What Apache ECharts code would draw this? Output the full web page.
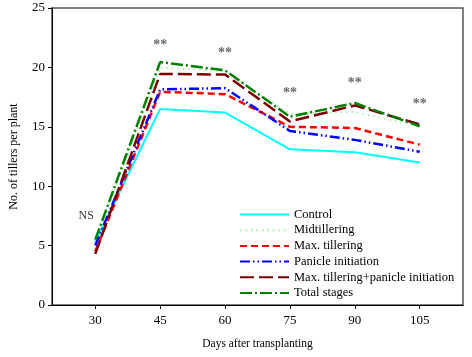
<!DOCTYPE html>
<html><head><meta charset="utf-8">
<script src="https://cdn.jsdelivr.net/npm/echarts@6/dist/echarts.min.js"></script>
<style>html,body{margin:0;padding:0;background:#fff}#c{width:472px;height:357px}</style>
</head><body><div id="c"></div>
<script>
const days = [30, 45, 60, 75, 90, 105];
const yTicks = [0, 5, 10, 15, 20, 25];
const control = [5.3, 16.5, 16.2, 13.1, 12.85, 12.0];
const midtillering = [5.3, 20.0, 19.65, 16.1, 16.25, 15.0];
const maxTillering = [4.5, 17.95, 17.75, 15.0, 14.9, 13.5];
const panicleInitiation = [5.0, 18.15, 18.25, 14.65, 13.9, 12.9];
const maxTillPanicle = [4.3, 19.45, 19.4, 15.45, 16.8, 15.2];
const totalStages = [5.5, 20.45, 19.75, 15.85, 17.0, 15.05];
const sigLabels = ['NS', '**', '**', '**', '**', '**'];
const sigY = [7.5, 21.9, 21.25, 17.9, 18.7, 17.0];

const font = '"Liberation Serif", "DejaVu Serif", serif';
const pairs = arr => days.map((d, i) => [d, arr[i]]);
function line(name, data, color, width, type) {
  return { name, type: 'line', data: pairs(data), symbol: 'none', showSymbol: false,
    lineStyle: { color, width, type }, itemStyle: { color }, z: 3, animation: false };
}
const chart = echarts.init(document.getElementById('c'), null, { renderer: 'canvas' });
chart.setOption({
  animation: false,
  grid: { left: 52, top: 8, right: 9, bottom: 52, show: true, borderColor: '#555', borderWidth: 1.5, containLabel: false },
  xAxis: {
    type: 'value', min: 20, max: 115,
    name: 'Days after transplanting', nameLocation: 'middle', nameGap: 33,
    nameTextStyle: { fontFamily: font, fontSize: 11.5, color: '#000' },
    axisLine: { show: true, lineStyle: { color: '#000', width: 1 } },
    axisTick: { show: true, length: 4, inside: false, customValues: days, lineStyle: { color: '#000' } },
    axisLabel: { customValues: days, fontFamily: font, fontSize: 13, color: '#000', margin: 9 },
    splitLine: { show: false }
  },
  yAxis: {
    type: 'value', min: 0, max: 25, interval: 5,
    name: 'No. of tillers per plant', nameLocation: 'middle', nameGap: 32,
    nameTextStyle: { fontFamily: font, fontSize: 12, color: '#000' },
    axisLine: { show: true, lineStyle: { color: '#000', width: 1 } },
    axisTick: { show: true, length: 4, inside: false, lineStyle: { color: '#000' } },
    axisLabel: { fontFamily: font, fontSize: 13, color: '#000', margin: 7 },
    splitLine: { show: false }
  },
  legend: {
    orient: 'vertical', left: 234, top: 203,
    itemWidth: 49, itemHeight: 10, itemGap: 2.7,
    itemStyle: { opacity: 0 },
    textStyle: { fontFamily: font, fontSize: 12.5, color: '#000', lineHeight: 12 },
    data: ['Control', 'Midtillering', 'Max. tillering', 'Panicle initiation', 'Max. tillering+panicle initiation', 'Total stages']
  },
  series: [
    line('Control', control, '#00FFFF', 2, 'solid'),
    line('Midtillering', midtillering, '#99EE99', 1.5, [1.5, 4]),
    line('Max. tillering', maxTillering, '#FF0000', 2.5, [7, 4]),
    line('Panicle initiation', panicleInitiation, '#0000FF', 2.5, [10, 3, 1.5, 3, 1.5, 3]),
    line('Max. tillering+panicle initiation', maxTillPanicle, '#7A0000', 2.5, [14, 5]),
    line('Total stages', totalStages, '#008000', 2.5, [12, 3, 2, 3]),
    { name: 'sig', type: 'scatter', symbol: 'circle', symbolSize: 1, silent: true, animation: false,
      itemStyle: { color: 'rgba(0,0,0,0)' },
      data: days.map((d, i) => ({ value: [d, sigY[i]],
        label: { show: true, formatter: sigLabels[i], position: 'inside',
          offset: sigLabels[i] === 'NS' ? [-9, 0] : [0, 1],
          fontFamily: font, fontSize: sigLabels[i] === 'NS' ? 12 : 14,
          fontWeight: sigLabels[i] === 'NS' ? 'normal' : 'bold',
          color: sigLabels[i] === 'NS' ? '#000' : '#444' } })),
      z: 4 }
  ]
});
</script></body></html>
